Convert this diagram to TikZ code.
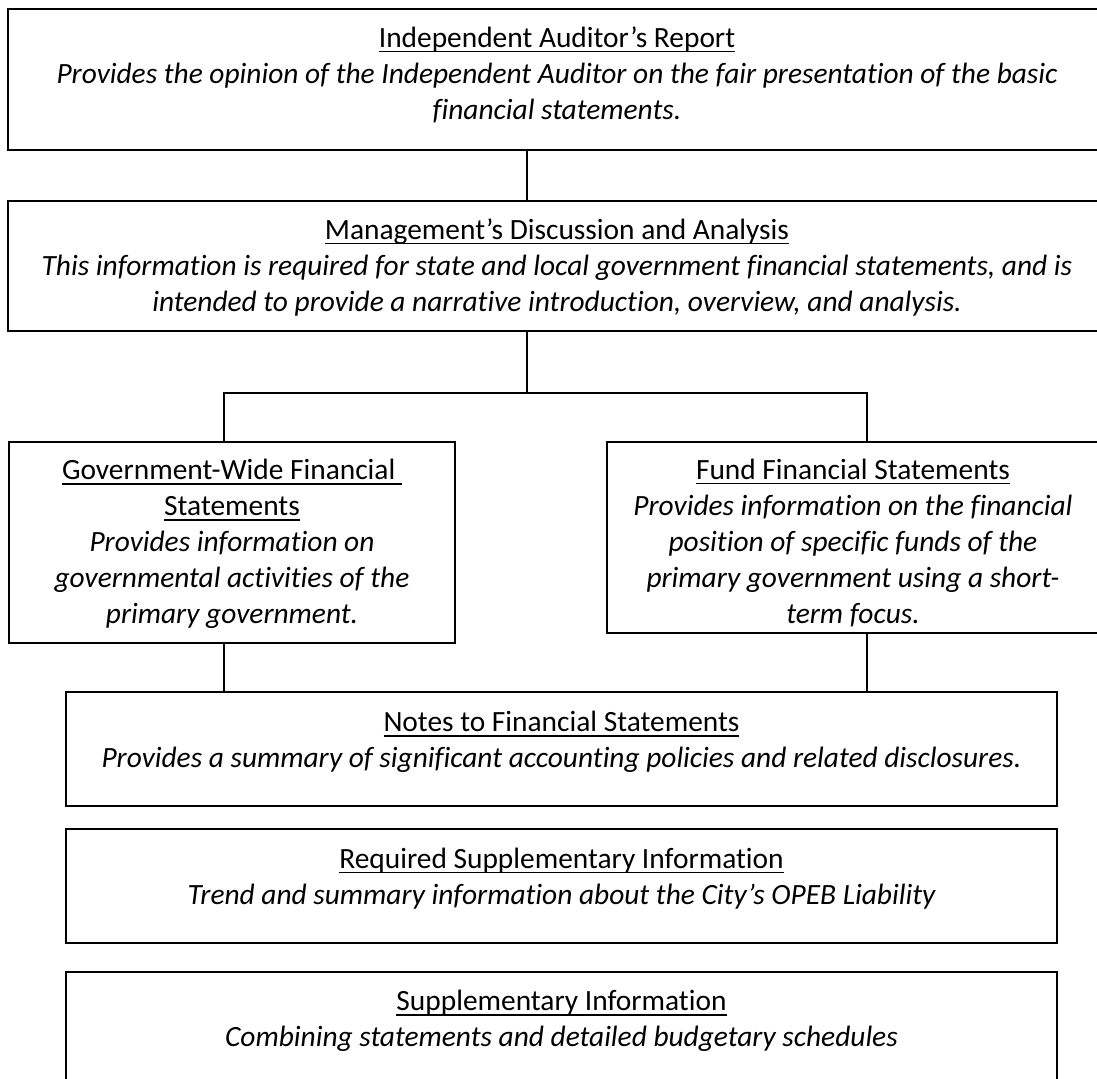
\documentclass[tikz,border=0pt]{standalone}
\usepackage{fontspec}
\setmainfont{Carlito}[Ligatures={NoCommon}]
\newcommand\ulx[1]{\leavevmode\setbox0\hbox{#1}\rlap{\rule[-2.6pt]{\wd0}{0.7pt}}\box0}
% #1 width, #2 height, #3 first baseline below top, #4 text
\newcommand\bx[4]{\parbox[c][#2][t]{#1}{\fontsize{14.7}{18}\selectfont\centering\rule{0pt}{#3}#4}}
\begin{document}
\begin{tikzpicture}[x=0.5pt,y=-0.5pt,
  box/.style={draw, line width=0.85pt, rectangle, inner sep=0pt, outer sep=0pt, anchor=north west},
  conn/.style={line width=0.75pt}]
\useasboundingbox (0,0) rectangle (1097,1078);
\clip (0,0) rectangle (1097,1078);
\node[box] (top) at (8,9)
  {\bx{549pt}{70.5pt}{19pt}{\ulx{Independent Auditor’s Report}\\
   \itshape Provides the opinion of the Independent Auditor on the fair presentation of the basic\\
   financial statements.}};
\node[box] (mda) at (8,201)
  {\bx{549pt}{65pt}{19pt}{\ulx{Management’s Discussion and Analysis}\\
   \itshape This information is required for state and local government financial statements, and is\\
   intended to provide a narrative introduction, overview, and analysis.}};
\node[box] (gov) at (9,442)
  {\bx{223pt}{100.5pt}{18.75pt}{\ulx{Government-Wide Financial\ }\\
   \ulx{Statements}\\
   \itshape Provides information on\\
   governmental activities of the\\
   primary government.}};
\node[box] (fund) at (607,442)
  {\bx{246pt}{95.5pt}{18.5pt}{\ulx{Fund Financial Statements}\\
   \itshape Provides information on the financial\\
   position of specific funds of the\\
   primary government using a short-\\
   term focus.}};
\node[box] (notes) at (66,692)
  {\bx{495.5pt}{57pt}{19.75pt}{\ulx{Notes to Financial Statements}\\
   \itshape Provides a summary of significant accounting policies and related disclosures.}};
\node[box] (rsi) at (66,829)
  {\bx{495.5pt}{57pt}{19.5pt}{\ulx{Required Supplementary Information}\\
   \itshape Trend and summary information about the City’s OPEB Liability}};
\node[box] (si) at (66,972)
  {\bx{495.5pt}{57pt}{19.25pt}{\ulx{Supplementary Information}\\
   \itshape Combining statements and detailed budgetary schedules}};
\coordinate (xm) at (527,0);
\coordinate (xl) at (224,0);
\coordinate (xr) at (867,0);
\coordinate (split) at (527,393);
\draw[conn] (top.south -| xm) -- (mda.north -| xm);
\draw[conn] (mda.south -| xm) -- (split);
\draw[conn] (gov.north -| xl) |- (split) -| (fund.north -| xr);
\draw[conn] (gov.south -| xl) -- (notes.north -| xl);
\draw[conn] (fund.south -| xr) -- (notes.north -| xr);
\end{tikzpicture}
\end{document}
